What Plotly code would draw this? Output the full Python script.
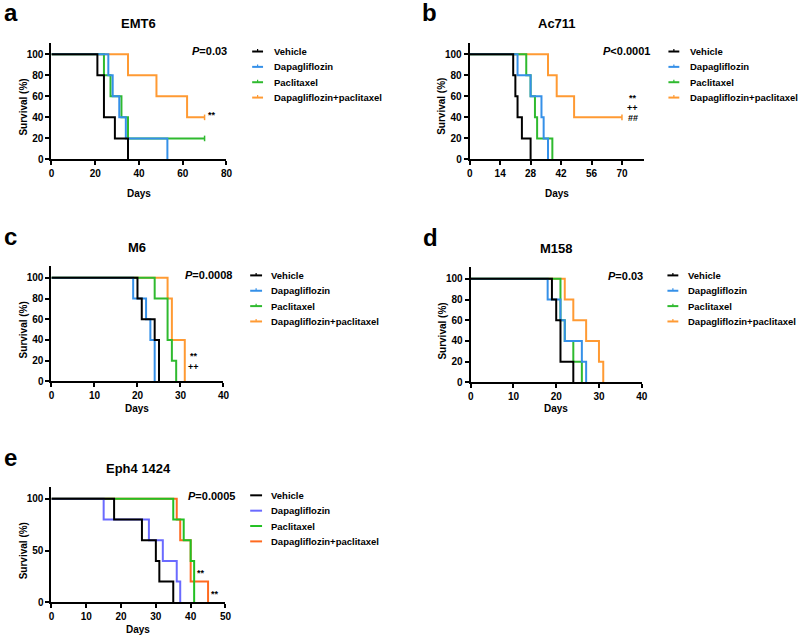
import plotly.graph_objects as go

W, H = 800, 641
FONT = "Liberation Sans, Arial, sans-serif"

GROUPS = ["Vehicle", "Dapagliflozin", "Paclitaxel", "Dapagliflozin+paclitaxel"]
COLORS = ["#000000", "#3590e8", "#2fba2f", "#ff9a33"]
COLORS_E = ["#000000", "#6a6aff", "#22c022", "#ff6a1f"]

# Kaplan-Meier steps: day of each event and the survival (%) after it
emt6_days = {
    "Vehicle": [0, 21, 24, 29, 35],
    "Dapagliflozin": [0, 26, 28, 31, 34, 53],
    "Paclitaxel": [0, 24, 27, 32, 35, 70],
    "Dapagliflozin+paclitaxel": [0, 35, 48, 62, 70],
}
emt6_surv = {
    "Vehicle": [100, 80, 40, 20, 0],
    "Dapagliflozin": [100, 80, 60, 40, 20, 0],
    "Paclitaxel": [100, 80, 60, 40, 20, 20],
    "Dapagliflozin+paclitaxel": [100, 80, 60, 40, 40],
}
emt6_censored = ["Paclitaxel", "Dapagliflozin+paclitaxel"]

ac711_days = {
    "Vehicle": [0, 20, 21, 22, 24, 28],
    "Dapagliflozin": [0, 22, 28, 33, 34, 36],
    "Paclitaxel": [0, 26, 28, 30, 31, 38],
    "Dapagliflozin+paclitaxel": [0, 36, 40, 48, 70],
}
ac711_surv = {
    "Vehicle": [100, 80, 60, 40, 20, 0],
    "Dapagliflozin": [100, 80, 60, 40, 20, 0],
    "Paclitaxel": [100, 80, 60, 40, 20, 0],
    "Dapagliflozin+paclitaxel": [100, 80, 60, 40, 40],
}
ac711_censored = ["Dapagliflozin+paclitaxel"]

m6_days = {
    "Vehicle": [0, 20, 21, 24, 25],
    "Dapagliflozin": [0, 19, 22, 23, 24],
    "Paclitaxel": [0, 24, 27, 28, 29],
    "Dapagliflozin+paclitaxel": [0, 27, 28, 31],
}
m6_surv = {
    "Vehicle": [100, 80, 60, 40, 0],
    "Dapagliflozin": [100, 80, 60, 40, 0],
    "Paclitaxel": [100, 80, 40, 20, 0],
    "Dapagliflozin+paclitaxel": [100, 80, 40, 0],
}

m158_days = {
    "Vehicle": [0, 19, 20, 21, 24],
    "Dapagliflozin": [0, 18, 21, 22, 26, 27],
    "Paclitaxel": [0, 21, 22, 24, 26],
    "Dapagliflozin+paclitaxel": [0, 22, 24, 27, 30, 31],
}
m158_surv = {
    "Vehicle": [100, 80, 60, 20, 0],
    "Dapagliflozin": [100, 80, 60, 40, 20, 0],
    "Paclitaxel": [100, 60, 40, 20, 0],
    "Dapagliflozin+paclitaxel": [100, 80, 60, 40, 20, 0],
}

eph4_days = {
    "Vehicle": [0, 18, 26, 30, 31, 35],
    "Dapagliflozin": [0, 15, 28, 32, 36, 37],
    "Paclitaxel": [0, 35, 38, 40, 41],
    "Dapagliflozin+paclitaxel": [0, 36, 37, 40, 45],
}
eph4_surv = {
    "Vehicle": [100, 80, 60, 40, 20, 0],
    "Dapagliflozin": [100, 80, 60, 40, 20, 0],
    "Paclitaxel": [100, 80, 60, 40, 0],
    "Dapagliflozin+paclitaxel": [100, 80, 60, 20, 0],
}

panels = [
    dict(letter="a", title="EMT6", days=emt6_days, surv=emt6_surv, cens=emt6_censored,
         xmax=80, xticks=[0, 20, 40, 60, 80], yticks=[0, 20, 40, 60, 80, 100],
         p="=0.03", colors=COLORS, box=(49, 226, 43, 161), pdx=3, ddy=34,
         stars=[("**", 211, 116)], leg=(252, 263, 272, 52), ticked=True),
    dict(letter="b", title="Ac711", days=ac711_days, surv=ac711_surv, cens=ac711_censored,
         xmax=80, xticks=[0, 14, 28, 42, 56, 70], yticks=[0, 20, 40, 60, 80, 100],
         p="<0.0001", colors=COLORS, box=(472, 648, 43, 161), pdx=8, ddy=34,
         stars=[("**", 637, 99), ("++", 637, 109), ("##", 637, 119)],
         leg=(673, 684, 693, 52), ticked=True),
    dict(letter="c", title="M6", days=m6_days, surv=m6_surv, cens=[],
         xmax=40, xticks=[0, 10, 20, 30, 40], yticks=[0, 20, 40, 60, 80, 100],
         p="=0.0008", colors=COLORS, box=(49, 223, 269, 385), pdx=11, ddy=27,
         stars=[("**", 193, 359), ("++", 193, 370)], leg=(250, 262, 269, 278), ticked=True),
    dict(letter="d", title="M158", days=m158_days, surv=m158_surv, cens=[],
         xmax=40, xticks=[0, 10, 20, 30, 40], yticks=[0, 20, 40, 60, 80, 100],
         p="=0.03", colors=COLORS, box=(473, 646, 270, 386), pdx=3, ddy=26,
         stars=[], leg=(672, 683, 691, 278), ticked=True),
    dict(letter="e", title="Eph4 1424", days=eph4_days, surv=eph4_surv, cens=[],
         xmax=50, xticks=[0, 10, 20, 30, 40, 50], yticks=[0, 50, 100],
         p="=0.0005", colors=COLORS_E, box=(49, 225, 492, 608), pdx=12, ddy=27,
         stars=[("**", 200, 578), ("**", 214, 600)], leg=(250, 262, 269, 500), ticked=False),
]


def fx(px):
    return px / W


def fy(py):
    return 1 - py / H


fig = go.Figure()
annotations = []
shapes = []
layout = {}
bold = dict(family=FONT, color="black", weight="bold")

for i, pn in enumerate(panels, start=1):
    xa = "x" if i == 1 else f"x{i}"
    ya = "y" if i == 1 else f"y{i}"
    x0, x1, y0, y1 = pn["box"]

    # draw in reverse so that Vehicle ends up on top
    for g, color in reversed(list(zip(GROUPS, pn["colors"]))):
        fig.add_trace(go.Scatter(
            x=pn["days"][g], y=pn["surv"][g], mode="lines", line_shape="hv",
            line=dict(color=color, width=2), xaxis=xa, yaxis=ya, showlegend=False,
            hoverinfo="skip"))
        if g in pn["cens"]:
            fig.add_trace(go.Scatter(
                x=pn["days"][g][-1:], y=pn["surv"][g][-1:], mode="markers",
                marker=dict(symbol="line-ns", size=4, line=dict(color=color, width=1.5)),
                xaxis=xa, yaxis=ya, showlegend=False, cliponaxis=False, hoverinfo="skip"))

    axis_common = dict(showline=True, linecolor="black", linewidth=2, ticks="outside",
                       ticklen=4, tickwidth=2, tickcolor="black", showgrid=False,
                       zeroline=False, tickfont=dict(size=10, **bold))
    layout["xaxis" if i == 1 else f"xaxis{i}"] = dict(
        domain=[fx(x0), fx(x1)], range=[0, pn["xmax"]], tickvals=pn["xticks"],
        anchor=ya, **axis_common)
    layout["yaxis" if i == 1 else f"yaxis{i}"] = dict(
        domain=[fy(y1), fy(y0)], range=[0, 111], tickvals=pn["yticks"],
        anchor=xa, **axis_common)

    # panel letter, title, axis titles
    annotations.append(dict(text=pn["letter"], x=fx(x0 - 50), y=fy(y0 - 30), xanchor="left",
                            yanchor="middle", font=dict(size=24, **bold)))
    annotations.append(dict(text=pn["title"], x=fx((x0 + x1) / 2), y=fy(y0 - 19),
                            xanchor="center", yanchor="middle", font=dict(size=13, **bold)))
    y100 = y1 - (y1 - y0) * 100 / 111
    annotations.append(dict(text="Survival (%)", x=fx(x0 - 28), y=fy((y100 + y1) / 2),
                            textangle=-90, xanchor="center", yanchor="middle",
                            font=dict(size=10, **bold)))
    annotations.append(dict(text="Days", x=fx((x0 + x1) / 2), y=fy(y1 + pn["ddy"]),
                            xanchor="center", yanchor="middle", font=dict(size=10, **bold)))
    annotations.append(dict(text=f"<i>P</i>{pn['p']}", x=fx(x1 + pn["pdx"]),
                            y=fy(y100 - 3), xanchor="right", yanchor="middle",
                            font=dict(size=11, **bold)))
    for s, sx, sy in pn["stars"]:
        annotations.append(dict(text=s, x=fx(sx), y=fy(sy), xanchor="center",
                                yanchor="middle", font=dict(size=9, **bold), borderpad=0))

    # legend
    lx0, lx1, tx, ly = pn["leg"]
    for k, (g, color) in enumerate(zip(GROUPS, pn["colors"])):
        yy = ly + k * 15.5
        shapes.append(dict(type="line", xref="paper", yref="paper", x0=fx(lx0), x1=fx(lx1),
                           y0=fy(yy), y1=fy(yy), line=dict(color=color, width=2)))
        if pn["ticked"]:
            xm = (lx0 + lx1) / 2
            shapes.append(dict(type="line", xref="paper", yref="paper", x0=fx(xm), x1=fx(xm),
                               y0=fy(yy - 2.5), y1=fy(yy), line=dict(color=color, width=1.2)))
        annotations.append(dict(text=g, x=fx(tx), y=fy(yy), xanchor="left", yanchor="middle",
                                font=dict(size=9.5, **bold)))

for a in annotations:
    a.update(xref="paper", yref="paper", showarrow=False)

fig.update_layout(
    width=W, height=H, autosize=False, margin=dict(l=0, r=0, t=0, b=0),
    paper_bgcolor="white", plot_bgcolor="white", showlegend=False,
    annotations=annotations, shapes=shapes, **layout)

fig.write_html("out.html", config={"displayModeBar": False},
               post_script="document.body.style.margin='0px';")
